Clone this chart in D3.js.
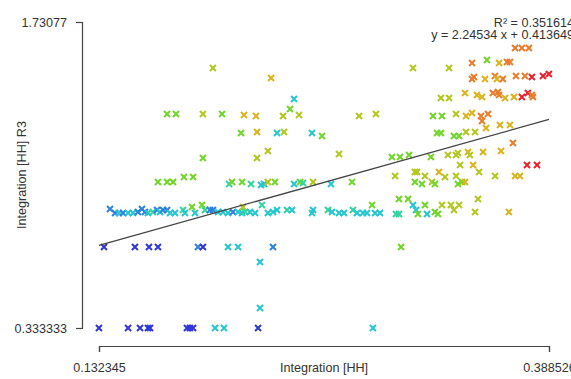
<!DOCTYPE html>
<html>
<head>
<meta charset="utf-8">
<script src="https://cdn.jsdelivr.net/npm/d3@7"></script>
<style>
  body { margin: 0; background: #fff; }
  svg text { font-family: "Liberation Sans", Arial, sans-serif; font-size: 12.6px; fill: #333; }
  .axis path, .axis line { stroke: #444; stroke-width: 1.2; }
</style>
</head>
<body>
<svg id="chart" width="571" height="379"></svg>
<script>
// ----------

const X_LABEL = "Integration [HH]";
const Y_LABEL = "Integration [HH] R3";
const X_DOMAIN = [0.132345, 0.388526];
const Y_DOMAIN = [0.333333, 1.73077];
const X_TICKS = ["0.132345", "0.388526"];
const Y_TICKS = ["0.333333", "1.73077"];

const FIT_SLOPE = 2.24534;
const FIT_INTERCEPT = 0.413649;
const FIT_R2 = "0.351614";

// x, y, and the colour variable (0 = low / blue .. 8 = high / red)
const xVals = [
  0.1323, 0.1489, 0.1557, 0.1602, 0.1614, 0.1824, 0.1841, 0.1859, 0.1984, 0.2035, 0.2229, 0.2883,
  0.2240, 0.2240,
  0.1352, 0.1528, 0.1608, 0.1659, 0.1887, 0.1915, 0.2058, 0.2115, 0.2314, 0.3043,
  0.1386, 0.1415, 0.1437, 0.1460, 0.1489, 0.1517, 0.1545, 0.1568, 0.1585, 0.1602, 0.1631, 0.1654,
  0.1671, 0.1688, 0.1711, 0.1728, 0.1756, 0.1802, 0.1813, 0.1853, 0.1870, 0.1910, 0.1927, 0.1955,
  0.1972, 0.2001, 0.2029, 0.2058, 0.2086, 0.2115, 0.2138, 0.2143, 0.2155, 0.2183, 0.2212, 0.2251,
  0.2285, 0.2314, 0.2337, 0.2394, 0.2422, 0.2536, 0.2542, 0.2627, 0.2650, 0.2690, 0.2718, 0.2769,
  0.2792, 0.2826, 0.2849, 0.2878, 0.2895, 0.2923, 0.3014, 0.3031, 0.3111, 0.3128, 0.3139, 0.3179,
  0.3191, 0.3236, 0.3253, 0.3276, 0.3327, 0.3344, 0.3373, 0.3464, 0.3657,
  0.3031, 0.3083, 0.3481,
  0.1659, 0.1711, 0.1745, 0.1807, 0.1859, 0.2064, 0.2081, 0.2138, 0.2189, 0.2246, 0.2263, 0.2285,
  0.2325, 0.2434, 0.2468, 0.2485, 0.2542, 0.2644, 0.2764, 0.3122, 0.3162, 0.3219, 0.3236, 0.3367,
  0.3390, 0.3407,
  0.3009, 0.3122, 0.3134, 0.3179, 0.3259, 0.3293, 0.3356, 0.3487, 0.3578, 0.3692, 0.3720,
  0.3379, 0.3453, 0.3760, 0.3817,
  0.1915, 0.2223, 0.2285, 0.2690, 0.2991, 0.3037, 0.3088, 0.3213, 0.3310, 0.3356, 0.3367, 0.3424,
  0.3435, 0.3510, 0.3612,
  0.3680,
  0.2132, 0.2223, 0.2337, 0.2377, 0.2536, 0.2593, 0.3248, 0.3270, 0.3344, 0.3373, 0.3413, 0.3464,
  0.3504, 0.3527, 0.3606, 0.3663,
  0.1711, 0.1762, 0.1915, 0.2024, 0.2149, 0.2217, 0.2371, 0.2462, 0.2804, 0.2900, 0.3225, 0.3276,
  0.3356, 0.3413, 0.3447, 0.3498, 0.3538,
  0.2411, 0.2434,
  0.3270, 0.3316, 0.3407, 0.3475, 0.3504, 0.3566, 0.3595, 0.3601, 0.3635, 0.3686, 0.3731, 0.3765,
  0.3788, 0.3794,
  0.2303, 0.3447, 0.3458, 0.3521, 0.3578, 0.3589, 0.3623, 0.3697, 0.3748, 0.3788, 0.3851, 0.3885,
  0.1972, 0.3111, 0.3316, 0.3447, 0.3532, 0.3601, 0.3646, 0.3663,
  0.3692, 0.3731, 0.3771
];

const yVals = [
  0.3333, 0.3333, 0.3333, 0.3333, 0.3333, 0.3333, 0.3333, 0.3333, 0.3333, 0.3333, 0.3333, 0.3333,
  0.4247, 0.6347,
  0.7032, 0.7032, 0.7032, 0.7032, 0.7032, 0.7032, 0.7032, 0.7032, 0.7032, 0.7032,
  0.8768, 0.8585, 0.8585, 0.8585, 0.8585, 0.8585, 0.8631, 0.8768, 0.8631, 0.8585, 0.8631, 0.8722,
  0.8631, 0.8722, 0.8722, 0.8585, 0.8585, 0.8722, 0.8585, 0.8859, 0.8585, 0.8951, 0.8722, 0.8722,
  0.8722, 0.8631, 0.8631, 0.8585, 0.8631, 0.8631, 0.8585, 0.8859, 0.8631, 0.8631, 0.8585, 0.8951,
  0.8585, 0.8631, 0.8722, 0.8722, 0.8722, 0.8585, 0.8722, 0.8722, 0.8631, 0.8585, 0.8585, 0.8722,
  0.8585, 0.8585, 0.8585, 0.8951, 0.8585, 0.8585, 0.8539, 0.8539, 0.8951, 0.8722, 0.8539, 0.8951,
  0.8539, 0.8631, 0.8539, 0.8951, 0.8951, 0.8722, 0.8951, 0.8631, 0.8631,
  0.9224, 0.9224, 0.9224,
  1.0001, 1.0001, 1.0001, 1.0229, 1.0229, 0.9910, 1.0001, 1.0001, 0.9910, 0.9864, 0.9910, 1.0001,
  1.0001, 0.9910, 1.0001, 0.9955, 1.0001, 0.9910, 1.0001, 1.0001, 0.9910, 1.0001, 0.9910, 0.9910,
  1.0001, 1.0001,
  1.0275, 1.0458, 1.0458, 1.0275, 1.0458, 1.0229, 1.0275, 1.0458, 1.0275, 1.0275, 1.0275,
  1.0777, 1.0777, 1.0777, 1.0777,
  1.1097, 1.1097, 1.1417, 1.1280, 1.1143, 1.1143, 1.1234, 1.1143, 1.1234, 1.1234, 1.1325, 1.1371,
  1.1234, 1.1371, 1.1417,
  1.1782,
  1.2239, 1.2284, 1.2239, 1.2284, 1.2239, 1.2102, 1.2239, 1.2239, 1.2102, 1.2102, 1.2284, 1.2284,
  1.2787, 1.2467, 1.2604, 1.2604,
  1.3107, 1.3107, 1.3107, 1.3107, 1.3061, 1.3015, 1.3015, 1.3061, 1.3015, 1.3107, 1.3015, 1.3015,
  1.3107, 1.3015, 1.3152, 1.3015, 1.3107,
  1.3335, 1.3791,
  1.3837, 1.3837, 1.4065, 1.3974, 1.3883, 1.4065, 1.4111, 1.3974, 1.3837, 1.3883, 1.3883, 1.4065,
  1.3974, 1.3883,
  1.4750, 1.4705, 1.4796, 1.4705, 1.4842, 1.4705, 1.4705, 1.4842, 1.4842, 1.4796, 1.4842, 1.4933,
  1.5207, 1.5207, 1.5207, 1.5435, 1.5572, 1.5435, 1.5481, 1.5481,
  1.6120, 1.6120, 1.6120
];

const zVals = [
  0, 0, 0, 0, 0, 0, 0, 0, 2, 2, 0, 2,
  2, 2,
  0, 0, 0, 0, 1, 0, 2, 2, 1, 4,
  1, 1, 2, 1, 2, 2, 1, 1, 1, 2, 3, 1,
  2, 1, 1, 2, 2, 3, 2, 4, 2, 4, 3, 1,
  1, 2, 2, 2, 1, 2, 2, 5, 3, 2, 2, 3,
  2, 2, 2, 3, 2, 2, 2, 3, 2, 2, 2, 3,
  2, 2, 2, 4, 2, 2, 3, 3, 2, 2, 4, 4,
  2, 4, 4, 5, 5, 5, 5, 5, 6,
  4, 4, 5,
  4, 4, 4, 4, 4, 3, 4, 4, 3, 2, 2, 5,
  4, 2, 4, 3, 5, 2, 4, 4, 4, 5, 4, 4,
  4, 6,
  5, 5, 5, 5, 6, 5, 5, 5, 5, 6, 6,
  5, 6, 8, 8,
  4, 5, 5, 5, 4, 4, 4, 4, 5, 5, 5, 6,
  5, 6, 6,
  7,
  4, 6, 2, 5, 2, 4, 4, 4, 4, 4, 5, 5,
  7, 6, 6, 6,
  4, 4, 5, 4, 6, 6, 5, 5, 5, 5, 4, 4,
  5, 6, 6, 7, 7,
  4, 2,
  5, 5, 6, 6, 6, 7, 7, 7, 6, 6, 8, 8,
  7, 7,
  6, 7, 7, 6, 7, 6, 7, 7, 7, 8, 8, 8,
  5, 5, 5, 7, 4, 6, 7, 7,
  7, 7, 7
];

const RAINBOW = ["#3036d6", "#2f80de", "#25c6cf", "#35d3a0", "#72d62a", "#b3c720", "#dcb31c", "#ea7c2c", "#e8202f"];

// ----------

const svg = d3.select("#chart");

const x = d3.scaleLinear().domain(X_DOMAIN).range([99, 549]);
const y = d3.scaleLinear().domain(Y_DOMAIN).range([328, 22]);
const color = d3.scaleLinear().domain(d3.range(RAINBOW.length)).range(RAINBOW);

const points = xVals.map((v, i) => ({ x: v, y: yVals[i], z: zVals[i] }));

// axes only span the tick range, like base R with min/max ticks
const xAxis = d3.axisBottom(x)
  .tickValues(X_DOMAIN)
  .tickFormat((d, i) => X_TICKS[i])
  .tickSize(6)
  .tickPadding(11);

const yAxis = d3.axisLeft(y)
  .tickValues(Y_DOMAIN)
  .tickFormat((d, i) => Y_TICKS[i])
  .tickSize(6)
  .tickPadding(9);

svg.append("g").attr("class", "axis").attr("transform", "translate(0,346)").call(xAxis);
svg.append("g").attr("class", "axis").attr("transform", "translate(82,0)").call(yAxis);
svg.selectAll(".axis text").attr("font-family", null).attr("font-size", null);

svg.append("text")
  .attr("x", 324)
  .attr("y", 372)
  .attr("text-anchor", "middle")
  .text(X_LABEL);

svg.append("text")
  .attr("transform", "translate(26,175) rotate(-90)")
  .attr("text-anchor", "middle")
  .text(Y_LABEL);

// points as "x" markers
svg.append("g")
  .selectAll("path")
  .data(points)
  .join("path")
  .attr("transform", (d) => `translate(${x(d.x)},${y(d.y)})`)
  .attr("d", "M-3,-3L3,3M-3,3L3,-3")
  .attr("stroke", (d) => color(d.z))
  .attr("stroke-width", 2)
  .attr("fill", "none");

// linear fit
svg.append("line")
  .attr("x1", x(X_DOMAIN[0]))
  .attr("y1", y(FIT_SLOPE * X_DOMAIN[0] + FIT_INTERCEPT))
  .attr("x2", x(X_DOMAIN[1]))
  .attr("y2", y(FIT_SLOPE * X_DOMAIN[1] + FIT_INTERCEPT))
  .attr("stroke", "#444")
  .attr("stroke-width", 1.3);

svg.append("text")
  .attr("x", 574)
  .attr("y", 26.5)
  .attr("text-anchor", "end")
  .text(`R\u00b2 = ${FIT_R2}`);

svg.append("text")
  .attr("x", 574)
  .attr("y", 38.5)
  .attr("text-anchor", "end")
  .text(`y = ${FIT_SLOPE} x + ${FIT_INTERCEPT}`);
</script>
</body>
</html>
